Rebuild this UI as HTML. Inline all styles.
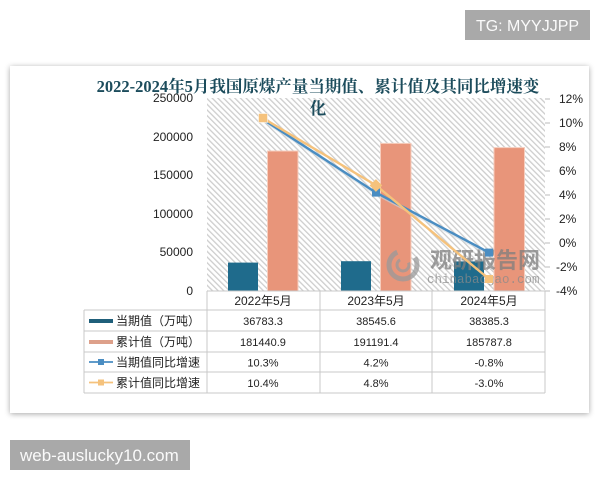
<!DOCTYPE html>
<html><head><meta charset="utf-8"><style>
html,body{margin:0;padding:0;background:#fff;}
svg{display:block;}
.ax{font-family:"Liberation Sans",sans-serif;font-size:12px;fill:#222;}
.tv{font-family:"Liberation Sans",sans-serif;font-size:11px;fill:#222;}
.cj{font-family:"Liberation Sans","Noto Sans CJK SC",sans-serif;fill:#222;}
</style></head><body>
<svg width="600" height="480" viewBox="0 0 600 480" xmlns="http://www.w3.org/2000/svg">
<defs>
<filter id="sh" x="-5%" y="-5%" width="110%" height="110%"><feGaussianBlur in="SourceAlpha" stdDeviation="3"/><feOffset dx="0" dy="1"/><feComponentTransfer><feFuncA type="linear" slope="0.35"/></feComponentTransfer><feMerge><feMergeNode/><feMergeNode in="SourceGraphic"/></feMerge></filter>
<pattern id="hatch" width="4" height="4" patternUnits="userSpaceOnUse" patternTransform="rotate(-45)"><rect width="4" height="4" fill="#ffffff"/><rect width="1.3" height="4" fill="#cdcdcd"/></pattern>
</defs>
<rect width="600" height="480" fill="#fff"/>
<rect x="465" y="10" width="125" height="30" fill="#a9a9a9"/>
<text x="527.5" y="31" text-anchor="middle" font-family="Liberation Sans, sans-serif" font-size="16" fill="#fafafa">TG: MYYJJPP</text>

<rect x="10" y="66" width="579" height="347" fill="#fff" filter="url(#sh)"/>

<!-- plot area -->
<rect x="207" y="98" width="338" height="193" fill="url(#hatch)"/>

<!-- title -->
<text x="318" y="92" text-anchor="middle" font-family="Liberation Serif, Noto Serif CJK SC, serif" font-weight="bold" font-size="16.5" fill="#1c4c5c">2022-2024年5月我国原煤产量当期值、累计值及其同比增速变</text>
<text x="318" y="114" text-anchor="middle" font-family="Liberation Serif, Noto Serif CJK SC, serif" font-weight="bold" font-size="16.5" fill="#1c4c5c">化</text>

<!-- left axis -->
<g class="ax" text-anchor="end">
<text x="193" y="102">250000</text>
<text x="193" y="141">200000</text>
<text x="193" y="179">150000</text>
<text x="193" y="218">100000</text>
<text x="193" y="256">50000</text>
<text x="193" y="295">0</text>
</g>
<!-- right axis -->
<g stroke="#bbb" stroke-width="1">
<line x1="545" y1="99" x2="550" y2="99"/><line x1="545" y1="123" x2="550" y2="123"/><line x1="545" y1="147" x2="550" y2="147"/><line x1="545" y1="171" x2="550" y2="171"/><line x1="545" y1="195" x2="550" y2="195"/><line x1="545" y1="219" x2="550" y2="219"/><line x1="545" y1="243" x2="550" y2="243"/><line x1="545" y1="267" x2="550" y2="267"/><line x1="545" y1="291" x2="550" y2="291"/>
</g>
<g class="ax">
<text x="559" y="103">12%</text>
<text x="559" y="127">10%</text>
<text x="559" y="151">8%</text>
<text x="559" y="175">6%</text>
<text x="559" y="199">4%</text>
<text x="559" y="223">2%</text>
<text x="559" y="247">0%</text>
<text x="556" y="271">-2%</text>
<text x="556" y="295">-4%</text>
</g>

<!-- bars -->
<g fill="#1f6b8c">
<rect x="228" y="262.6" width="30" height="28.4"/>
<rect x="341" y="261.2" width="30" height="29.8"/>
<rect x="454" y="261.4" width="30" height="29.6"/>
</g>
<g fill="#e8957a" stroke="#f6cdbd" stroke-width="1">
<rect x="267.5" y="151" width="30.5" height="140"/>
<rect x="380.5" y="143.4" width="30.5" height="147.6"/>
<rect x="494" y="147.6" width="30.5" height="143.4"/>
</g>

<!-- watermark -->
<g opacity="0.75">
<circle cx="403" cy="265" r="14" fill="none" stroke="#9a9a9a" stroke-width="5" stroke-dasharray="60 20"/>
<circle cx="403" cy="265" r="6" fill="none" stroke="#9a9a9a" stroke-width="3" stroke-dasharray="25 10"/>
<text x="430" y="268" font-family="Liberation Sans, Noto Sans CJK SC, sans-serif" font-weight="bold" font-size="22" fill="#7f7f7f">观研报告网</text>
<text x="427" y="283" font-family="Liberation Mono, monospace" font-size="12.5" fill="#8a8a8a">chinabaogao.com</text>
</g>

<!-- lines -->
<polyline points="264,120.5 377,194 490,254" fill="none" stroke="#c9d6de" stroke-width="3.5" opacity="0.6"/>
<polyline points="263,119.4 376,192.6 489,252.6" fill="none" stroke="#4a8dc2" stroke-width="2.4"/>
<polyline points="263,118.2 376,185.4 489,279" fill="none" stroke="#f5c27c" stroke-width="2.4"/>
<rect x="372" y="188.6" width="8" height="8" fill="#4a8dc2"/>
<rect x="485" y="248.6" width="8" height="8" fill="#4a8dc2"/>
<rect x="258.5" y="113.5" width="9" height="9" fill="#f5c27c" stroke="#fff" stroke-width="0.5"/>
<rect x="371.5" y="181" width="9" height="9" fill="#f5c27c" transform="rotate(45 376 185.4)"/>
<rect x="485" y="275" width="8" height="8" fill="#f5c27c"/>

<!-- table -->
<g stroke="#c8c8c8" stroke-width="1" fill="none">
<line x1="207" y1="291" x2="545" y2="291"/>
<line x1="84" y1="310" x2="545" y2="310"/>
<line x1="84" y1="331" x2="545" y2="331"/>
<line x1="84" y1="352" x2="545" y2="352"/>
<line x1="84" y1="372" x2="545" y2="372"/>
<line x1="84" y1="393" x2="545" y2="393"/>
<line x1="84" y1="310" x2="84" y2="393"/>
<line x1="207" y1="291" x2="207" y2="393"/>
<line x1="320" y1="291" x2="320" y2="393"/>
<line x1="432" y1="291" x2="432" y2="393"/>
<line x1="545" y1="291" x2="545" y2="393"/>
</g>
<g class="cj" font-size="12" text-anchor="middle">
<text x="263" y="305">2022年5月</text>
<text x="376" y="305">2023年5月</text>
<text x="489" y="305">2024年5月</text>
</g>
<!-- legend icons -->
<rect x="89" y="319" width="24" height="4" fill="#1f5f7a"/>
<rect x="89" y="340" width="24" height="4" fill="#dda08a"/>
<line x1="89" y1="362" x2="113" y2="362" stroke="#4a8dc2" stroke-width="1.8"/>
<rect x="98" y="359" width="6" height="6" fill="#4a8dc2"/>
<line x1="89" y1="382.5" x2="113" y2="382.5" stroke="#f5c27c" stroke-width="1.8"/>
<rect x="98" y="379.5" width="6" height="6" fill="#f5c27c"/>
<g class="cj" font-size="12">
<text x="116" y="325">当期值（万吨）</text>
<text x="116" y="346">累计值（万吨）</text>
<text x="116" y="366.5">当期值同比增速</text>
<text x="116" y="387">累计值同比增速</text>
</g>
<g class="tv" text-anchor="middle">
<text x="263" y="325">36783.3</text><text x="376" y="325">38545.6</text><text x="489" y="325">38385.3</text>
<text x="263" y="346">181440.9</text><text x="376" y="346">191191.4</text><text x="489" y="346">185787.8</text>
<text x="263" y="366.5">10.3%</text><text x="376" y="366.5">4.2%</text><text x="489" y="366.5">-0.8%</text>
<text x="263" y="387">10.4%</text><text x="376" y="387">4.8%</text><text x="489" y="387">-3.0%</text>
</g>

<rect x="10" y="440" width="180" height="30" fill="#a9a9a9"/>
<text x="20" y="461" font-family="Liberation Sans, sans-serif" font-size="17" fill="#fafafa">web-auslucky10.com</text>
</svg>
</body></html>
